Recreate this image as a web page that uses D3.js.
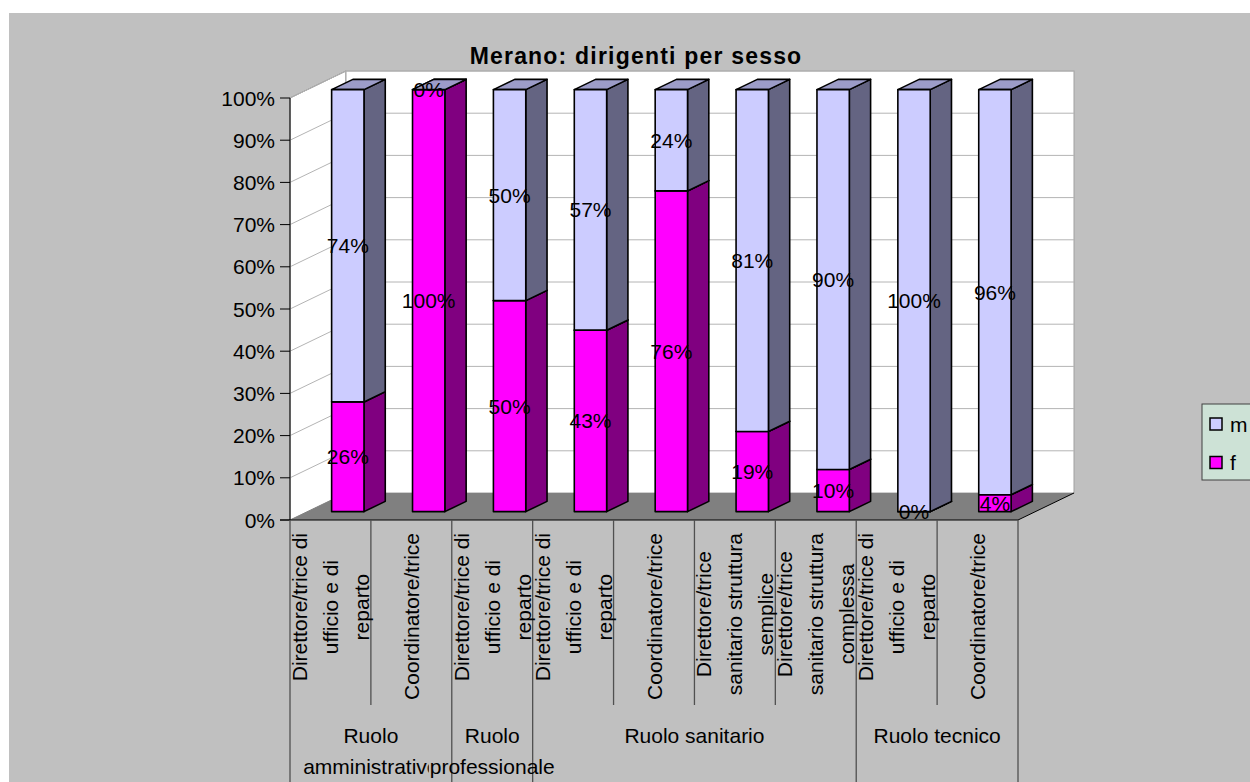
<!DOCTYPE html>
<html>
<head>
<meta charset="utf-8">
<script src="https://cdn.jsdelivr.net/npm/d3@7"></script>
<style>
  html, body { margin: 0; padding: 0; background: #ffffff; }
  svg { display: block; font-family: "Liberation Sans", Arial, sans-serif; }
</style>
</head>
<body>
<svg id="chart" width="1250" height="782"></svg>
<script>
// ---------- data ----------
const categories = [
  ["Direttore/trice di", "ufficio e di", "reparto"],
  ["Coordinatore/trice"],
  ["Direttore/trice di", "ufficio e di", "reparto"],
  ["Direttore/trice di", "ufficio e di", "reparto"],
  ["Coordinatore/trice"],
  ["Direttore/trice", "sanitario struttura", "semplice"],
  ["Direttore/trice", "sanitario struttura", "complessa"],
  ["Direttore/trice di", "ufficio e di", "reparto"],
  ["Coordinatore/trice"]
];
const groupNames = [["Ruolo", "amministrativo"], ["Ruolo", "professionale"], ["Ruolo sanitario"], ["Ruolo tecnico"]];
const groupSizes = [2, 1, 4, 2];
const seriesNames = ["f", "m"];
const fValues = [0.26, 1.00, 0.50, 0.43, 0.76, 0.19, 0.10, 0.00, 0.04];
const mValues = [0.74, 0.00, 0.50, 0.57, 0.24, 0.81, 0.90, 1.00, 0.96];
const yTicks = [0, 0.1, 0.2, 0.3, 0.4, 0.5, 0.6, 0.7, 0.8, 0.9, 1.0];
const titleText = "Merano: dirigenti per sesso";

// ---------- layout ----------
const svg = d3.select("#chart");
const X0 = 290, X1 = 1018, Y0 = 520, Y1 = 98;
const DX = 56, DY = 27;            // full depth offset
const Z0 = 0.31, Z1 = 0.69;        // bar depth range
const colors = {
  m: { front: "#ccccff", side: "#646482", top: "#9c9cc8" },
  f: { front: "#ff00ff", side: "#800080", top: "#cc00cc" }
};

const x = d3.scaleBand().domain(d3.range(categories.length)).range([X0, X1]).padding(0);
const y = d3.scaleLinear().domain([0, 1]).range([Y0, Y1]);
const fmt = d3.format(".0%");

// background
svg.append("rect").attr("x", 9).attr("y", 13).attr("width", 1241).attr("height", 769).attr("fill", "#c0c0c0");

// title
svg.append("text").attr("x", 636).attr("y", 64).attr("text-anchor", "middle")
  .attr("font-size", 23).attr("font-weight", "bold").attr("letter-spacing", 1.2)
  .text(titleText);

// walls
const pt = (px, py) => px + "," + py;
svg.append("polygon").attr("points", [pt(X0, y(1)), pt(X0 + DX, y(1) - DY), pt(X0 + DX, Y0 - DY), pt(X0, Y0)].join(" "))
  .attr("fill", "#ffffff").attr("stroke", "#808080").attr("stroke-width", 1);
svg.append("rect").attr("x", X0 + DX).attr("y", y(1) - DY).attr("width", X1 - X0).attr("height", Y0 - y(1))
  .attr("fill", "#ffffff").attr("stroke", "#a0a0a0").attr("stroke-width", 1);

// gridlines
const grid = svg.append("g").attr("stroke", "#b4b4b4").attr("stroke-width", 1).attr("fill", "none");
yTicks.filter(t => t > 0).forEach(t => {
  grid.append("path").attr("d", `M${X0},${y(t)}L${X0 + DX},${y(t) - DY}L${X1 + DX},${y(t) - DY}`);
});

// floor
svg.append("polygon").attr("points", [pt(X0, Y0), pt(X0 + DX, Y0 - DY), pt(X1 + DX, Y0 - DY), pt(X1, Y0)].join(" "))
  .attr("fill", "#808080");
svg.append("line").attr("x1", X1).attr("y1", Y0).attr("x2", X1 + DX).attr("y2", Y0 - DY).attr("stroke", "#000").attr("stroke-width", 1);

// y axis
svg.append("line").attr("x1", X0).attr("y1", Y1).attr("x2", X0).attr("y2", Y0).attr("stroke", "#000");
const yAxis = svg.append("g");
yTicks.forEach(t => {
  yAxis.append("line").attr("x1", X0 - 10).attr("x2", X0).attr("y1", y(t)).attr("y2", y(t)).attr("stroke", "#000");
  yAxis.append("text").attr("x", 275).attr("y", y(t)).attr("dy", "0.36em").attr("text-anchor", "end")
    .attr("font-size", 21).text(fmt(t));
});

// bars
const bw = x.bandwidth() * 0.4;
const bdx = (Z1 - Z0) * DX, bdy = (Z1 - Z0) * DY;
const barsG = svg.append("g").attr("stroke", "#000").attr("stroke-width", 1.6).attr("stroke-linejoin", "round");
const labels = [];
categories.forEach((c, i) => {
  const cx = x(i) + x.bandwidth() / 2 + Z0 * DX;
  const xl = cx - bw / 2, xr = cx + bw / 2;
  let base = 0;
  [["f", fValues[i]], ["m", mValues[i]]].forEach(([s, v]) => {
    const yb = y(base) - Z0 * DY, yt = y(base + v) - Z0 * DY;
    const col = colors[s];
    barsG.append("polygon").attr("points", [pt(xr, yb), pt(xr + bdx, yb - bdy), pt(xr + bdx, yt - bdy), pt(xr, yt)].join(" "))
      .attr("fill", col.side);
    barsG.append("polygon").attr("points", [pt(xl, yt), pt(xr, yt), pt(xr + bdx, yt - bdy), pt(xl + bdx, yt - bdy)].join(" "))
      .attr("fill", col.top);
    barsG.append("rect").attr("x", xl).attr("y", yt).attr("width", bw).attr("height", yb - yt).attr("fill", col.front);
    labels.push({ x: cx, y: y(base + v / 2) - Z0 * DY, t: fmt(v) });
    base += v;
  });
});
const labG = svg.append("g");
labels.forEach(l => {
  labG.append("text").attr("x", l.x).attr("y", l.y).attr("dy", "0.36em").attr("text-anchor", "middle")
    .attr("font-size", 21).text(l.t);
});

// category axis line
svg.append("line").attr("x1", X0 - 10).attr("x2", X1).attr("y1", Y0).attr("y2", Y0).attr("stroke", "#000");

// dividers
const divG = svg.append("g").attr("stroke", "#505050").attr("stroke-width", 1.3);
const groupEdges = [0];
groupSizes.forEach(s => groupEdges.push(groupEdges[groupEdges.length - 1] + s));
for (let i = 0; i <= categories.length; i++) {
  const xx = i < categories.length ? x(i) : X1;
  const isGroup = groupEdges.includes(i);
  divG.append("line").attr("x1", xx).attr("x2", xx).attr("y1", Y0).attr("y2", isGroup ? 782 : 705);
}

// category labels (rotated)
const catG = svg.append("g");
const LH = 31;
categories.forEach((lines, i) => {
  const cx = x(i) + x.bandwidth() / 2;
  const g = catG.append("g");
  const texts = lines.map(ln => g.append("text").attr("font-size", 21).attr("text-anchor", "middle")
    .attr("dominant-baseline", "central").text(ln));
  const maxLen = d3.max(texts, t => t.node().getComputedTextLength());
  const cy = 533 + maxLen / 2;
  texts.forEach((t, k) => {
    const lx = cx + (k - (lines.length - 1) / 2) * LH;
    t.attr("transform", `translate(${lx},${cy}) rotate(-90)`);
  });
});

// group labels (a label hidden behind the next one on the same line is cut, as in the original)
const grpG = svg.append("g");
const grpTexts = [];
groupNames.forEach((lines, gi) => {
  const a = x(groupEdges[gi]);
  const b = groupEdges[gi + 1] < categories.length ? x(groupEdges[gi + 1]) : X1;
  const gx = (a + b) / 2;
  grpTexts.push(lines.map((ln, k) => grpG.append("text").attr("x", gx).attr("y", 735 + k * LH).attr("dy", "0.36em")
    .attr("text-anchor", "middle").attr("font-size", 21).text(ln)));
});
const defs = svg.append("defs");
grpTexts.forEach((lines, gi) => {
  lines.forEach((t, k) => {
    const next = grpTexts[gi + 1] && grpTexts[gi + 1][k];
    if (!next) return;
    const bbN = next.node().getBBox(), bb = t.node().getBBox();
    if (bb.x + bb.width > bbN.x) {
      const id = `clip-g${gi}-${k}`;
      defs.append("clipPath").attr("id", id).append("rect")
        .attr("x", bb.x - 2).attr("y", bb.y - 2).attr("width", bbN.x - bb.x + 1).attr("height", bb.height + 4);
      t.attr("clip-path", `url(#${id})`);
    }
  });
});

// legend
const leg = svg.append("g");
leg.append("rect").attr("x", 1202).attr("y", 404).attr("width", 60).attr("height", 76)
  .attr("fill", "#cde2d6").attr("stroke", "#404040").attr("stroke-width", 1);
["m", "f"].forEach((s, k) => {
  const yy = 418 + k * 38.5;
  leg.append("rect").attr("x", 1210).attr("y", yy).attr("width", 12).attr("height", 12)
    .attr("fill", colors[s].front).attr("stroke", "#000").attr("stroke-width", 1.5);
  leg.append("text").attr("x", 1230).attr("y", yy + 6).attr("dy", "0.36em").attr("font-size", 21).text(s);
});
</script>
</body>
</html>
